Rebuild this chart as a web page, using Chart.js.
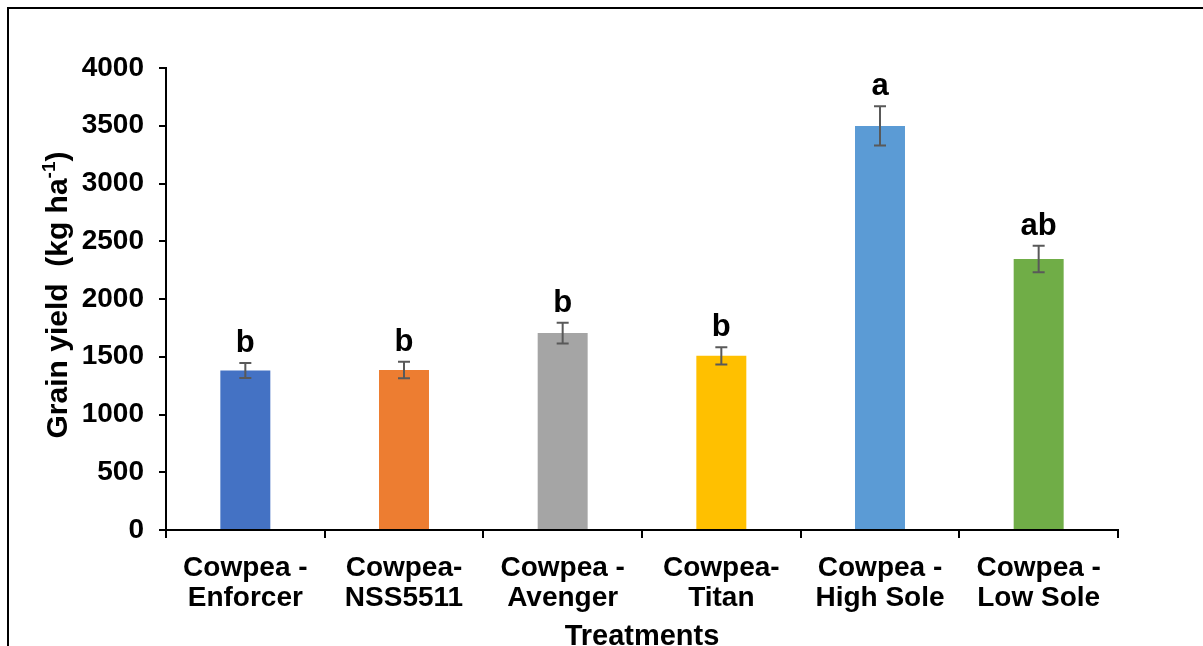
<!DOCTYPE html>
<html lang="en">
<head>
    <meta charset="UTF-8">
    <title>Grain yield</title>
    <script src="https://cdn.jsdelivr.net/npm/chart.js"></script>
    <style>
        body {
            margin: 0;
            background: white;
            overflow: hidden;
        }
        .frame {
            position: absolute;
            left: 7px;
            top: 7px;
            width: 1300px;
            height: 800px;
            border-left: 2.5px solid black;
            border-top: 2.5px solid black;
        }
        .chart-box {
            position: absolute;
            left: 0;
            top: 0;
            width: 1203px;
            height: 646px;
        }
    </style>
</head>
<body>
    <div class="frame"></div>
    <div class="chart-box">
        <canvas id="yieldChart"></canvas>
    </div>

    <script>
        const treatments = [
            ["Cowpea -", "Enforcer"],
            ["Cowpea-", "NSS5511"],
            ["Cowpea -", "Avenger"],
            ["Cowpea-", "Titan"],
            ["Cowpea -", "High Sole"],
            ["Cowpea -", "Low Sole"]
        ];
        const grainYield = [1380, 1385, 1705, 1508, 3498, 2346];
        const stdError = [65, 72, 90, 75, 170, 115];
        const letters = ["b", "b", "b", "b", "a", "ab"];
        const barColors = ["#4472C4", "#ED7D31", "#A5A5A5", "#FFC000", "#5B9BD5", "#70AD47"];

        const FONT = "'Liberation Sans', Arial, sans-serif";

        // error bars, significance letters and axis titles
        const extras = {
            id: "extras",
            afterDatasetsDraw(chart) {
                const ctx = chart.ctx;
                const x = chart.scales.x;
                const y = chart.scales.y;
                ctx.save();
                grainYield.forEach((v, i) => {
                    const cx = x.getPixelForValue(i);
                    const top = y.getPixelForValue(v + stdError[i]);
                    const bot = y.getPixelForValue(v - stdError[i]);
                    ctx.strokeStyle = "#595959";
                    ctx.lineWidth = 2;
                    ctx.beginPath();
                    ctx.moveTo(cx, top); ctx.lineTo(cx, bot);
                    ctx.moveTo(cx - 6, top); ctx.lineTo(cx + 6, top);
                    ctx.moveTo(cx - 6, bot); ctx.lineTo(cx + 6, bot);
                    ctx.stroke();

                    ctx.fillStyle = "black";
                    ctx.font = "bold 31px " + FONT;
                    ctx.textAlign = "center";
                    ctx.textBaseline = "alphabetic";
                    ctx.fillText(letters[i], cx, top - 11);
                });

                // x title
                ctx.font = "bold 29px " + FONT;
                ctx.textAlign = "center";
                ctx.fillText("Treatments", (x.left + x.right) / 2, 645);

                // y title with superscript
                ctx.translate(67, (y.top + y.bottom) / 2 - 4);
                ctx.rotate(-Math.PI / 2);
                const main = "Grain yield  (kg ha";
                const sup = "-1";
                const end = ")";
                ctx.font = "bold 30px " + FONT;
                const w1 = ctx.measureText(main).width;
                const w3 = ctx.measureText(end).width;
                ctx.font = "bold 19px " + FONT;
                const w2 = ctx.measureText(sup).width;
                let sx = -(w1 + w2 + w3) / 2;
                ctx.textAlign = "left";
                ctx.font = "bold 30px " + FONT;
                ctx.fillText(main, sx, 0);
                ctx.font = "bold 19px " + FONT;
                ctx.fillText(sup, sx + w1, -12);
                ctx.font = "bold 30px " + FONT;
                ctx.fillText(end, sx + w1 + w2, 0);
                ctx.restore();
            }
        };

        new Chart(document.getElementById("yieldChart"), {
            type: "bar",
            data: {
                labels: treatments,
                datasets: [{
                    data: grainYield,
                    backgroundColor: barColors,
                    barPercentage: 0.315,
                    categoryPercentage: 1
                }]
            },
            options: {
                responsive: true,
                maintainAspectRatio: false,
                animation: false,
                layout: { padding: { left: 0, top: 68, right: 85, bottom: 0 } },
                plugins: { legend: { display: false }, tooltip: { enabled: false } },
                scales: {
                    x: {
                        afterFit: s => { s.height = 116; },
                        grid: { drawOnChartArea: false, drawTicks: true, tickLength: 8, color: "black", lineWidth: 2 },
                        border: { display: true, color: "black", width: 2 },
                        ticks: {
                            color: "black",
                            padding: 15,
                            maxRotation: 0,
                            autoSkip: false,
                            font: { family: FONT, size: 28, weight: "bold", lineHeight: 1.09 }
                        }
                    },
                    y: {
                        min: 0,
                        max: 4000,
                        afterFit: s => { s.width = 166; },
                        grid: { drawOnChartArea: false, drawTicks: true, tickLength: 7, color: "black", lineWidth: 2 },
                        border: { display: true, color: "black", width: 2 },
                        ticks: {
                            stepSize: 500,
                            color: "black",
                            padding: 15,
                            callback: v => String(v),
                            font: { family: FONT, size: 28, weight: "bold" }
                        }
                    }
                }
            },
            plugins: [extras]
        });
    </script>
</body>
</html>
